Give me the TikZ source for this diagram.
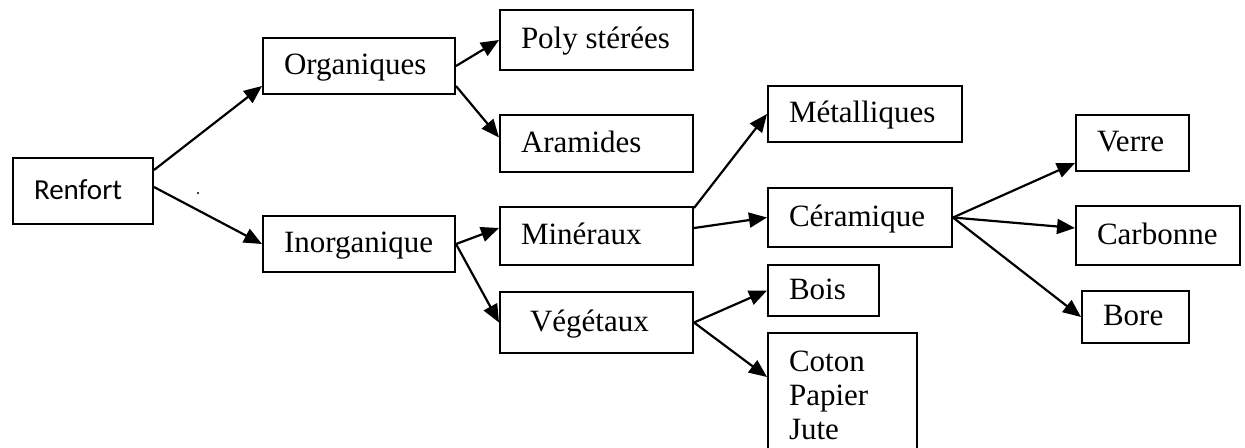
\documentclass[tikz,border=0pt]{standalone}
\usepackage{fontspec}
\setmainfont{Liberation Serif}
\newfontfamily\calibrifont{Carlito}
\usetikzlibrary{arrows.meta}

\newcommand\gauche[2]{\makebox[#1][l]{#2}}

\begin{document}
\begin{tikzpicture}[x=0.5pt,y=-0.5pt,
                    cadre/.style={draw,line width=1pt,anchor=north west,align=left,
                                  inner xsep=10.5pt,font=\fontsize{15.5}{17}\selectfont},
                    box/.style={cadre,inner ysep=0pt,text height=12pt,text depth=3.5pt},
                    fleche/.style={line width=1.1pt,-{Triangle[length=9pt,width=7.5pt]}}]

                    \clip (0,0) rectangle (1245,447);

                    \node[box,minimum height=33pt,font=\calibrifont\fontsize{14.5}{17}\selectfont,text height=11pt,text depth=3pt] (renfort) at (12,157) {\gauche{49pt}{Renfort}};
                    \node[box,minimum height=28pt] (orga) at (262,37) {\gauche{75pt}{Organiques}};
                    \node[box,minimum height=28pt] (inorga) at (262,215) {\gauche{75pt}{Inorganique}};
                    \node[box,minimum height=30pt] (poly) at (499,9) {\gauche{75.5pt}{Poly stérées}};
                    \node[box,minimum height=28.5pt] (aram) at (499,114) {\gauche{75.5pt}{Aramides}};
                    \node[box,minimum height=29pt] (mine) at (499,206) {\gauche{75.5pt}{Minéraux}};
                    \node[box,minimum height=30.5pt] (vege) at (499,291) {\gauche{75.5pt}{\hspace*{4.5pt}Végétaux}};
                    \node[box,minimum height=28pt] (meta) at (767,85) {\gauche{76pt}{Métalliques}};
                    \node[box,minimum height=29.5pt] (cera) at (767,187) {\gauche{71pt}{Céramique}};
                    \node[box,minimum height=25.5pt] (bois) at (767,264) {\gauche{34.5pt}{Bois}};
                    \node[cadre,text width=53.5pt,inner ysep=9pt] (coton) at (767,332) {Coton\\Papier\\Jute};
                    \node[box,minimum height=28pt] (verre) at (1075,114) {\gauche{35.5pt}{Verre}};
                    \node[box,minimum height=29.5pt] (carb) at (1075,205) {\gauche{61pt}{Carbonne}};
                    \node[box,minimum height=26pt] (bore) at (1081,290) {\gauche{32.5pt}{Bore}};

                    \draw[fleche] ([yshift=10.5pt]renfort.east) -- ([yshift=-10pt]orga.west);
                    \draw[fleche] ([yshift=2pt]renfort.east) -- (inorga.west);
                    \draw[fleche] (orga.east) -- (poly.west);
                    \draw[fleche] ([yshift=-10pt]orga.east) -- ([yshift=3pt]aram.west);
                    \draw[fleche] (inorga.east) -- ([yshift=4pt]mine.west);
                    \draw[fleche] (inorga.east) -- (vege.west);
                    \draw[fleche] ([yshift=-1pt]mine.north east) -- (meta.west);
                    \draw[fleche] ([yshift=4pt]mine.east) -- (cera.west);
                    \draw[fleche] (vege.east) -- (bois.west);
                    \draw[fleche] (vege.east) -- ([yshift=-22.5pt]coton.north west);
                    \draw[fleche] (cera.east) -- ([yshift=-10pt]verre.west);
                    \draw[fleche] (cera.east) -- ([yshift=3.75pt]carb.west);
                    \draw[fleche] (cera.east) -- (bore.west);

                    \fill (198,193) circle (0.6pt);

                \end{tikzpicture}
\end{document}
